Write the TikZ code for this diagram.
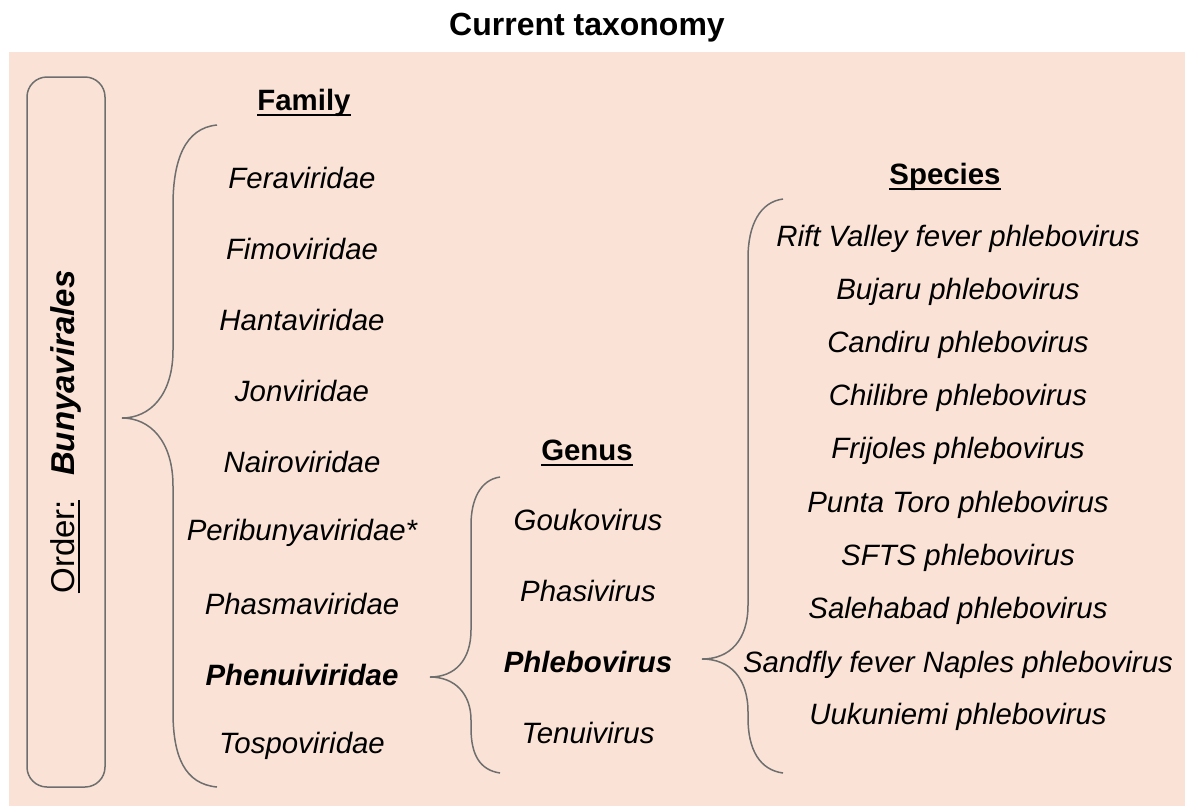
\documentclass[tikz,border=0pt]{standalone}
\usepackage{fontspec}
\setmainfont{Liberation Sans}
\usepackage{tikz}
\usetikzlibrary{positioning, calc}

\definecolor{peach}{RGB}{250,227,214}
\definecolor{linegray}{RGB}{110,110,110}
\newsavebox{\ulbox}
\newcommand{\ulabel}[1]{\sbox{\ulbox}{#1}\rlap{\usebox{\ulbox}}\rule[-5.5pt]{\wd\ulbox}{1.8pt}}
\newcommand{\txtsize}{\fontsize{29.4}{35}\selectfont}

\begin{document}
\begin{tikzpicture}[
        x=1pt, y=-1pt,
        % Define styles for the headings, names and brackets
        heading/.style={font=\txtsize\bfseries, inner sep=0pt},
        taxon/.style={font=\txtsize\itshape, inner sep=0pt},
        keytaxon/.style={font=\txtsize\bfseries\itshape, inner sep=0pt},
        bracket/.style={draw=linegray, line width=1.5pt},
        orderbox/.style={draw=linegray, line width=1.5pt, rounded corners=20pt, rotate=90, minimum width=710pt, minimum height=78pt, inner sep=0pt, font=\fontsize{33}{38}\selectfont}
    ]
    \useasboundingbox (0,0) rectangle (1185,809);

    % Background panel and title
    \fill[peach] (9,52) rectangle (1185,806);
    \node[font=\fontsize{32}{38}\selectfont\bfseries] (title) at (587,28) {Current taxonomy};

    % Order box on the left
    \node[orderbox] (order) at (66,432) {\ulabel{Order:}\hspace{24pt}\textbf{\textit{Bunyavirales}}};

    % Family column
    \node[heading] (family) at (304,103) {\ulabel{Family}};
    \node[taxon] (feraviridae) at (302,178) {Feraviridae};
    \node[taxon] (fimoviridae) at (302,249) {Fimoviridae};
    \node[taxon] (hantaviridae) at (302,320) {Hantaviridae};
    \node[taxon] (jonviridae) at (302,391) {Jonviridae};
    \node[taxon] (nairoviridae) at (302,462) {Nairoviridae};
    \node[taxon] (peribunyaviridae) at (302,533) {Peribunyaviridae*};
    \node[taxon] (phasmaviridae) at (302,604) {Phasmaviridae};
    \node[keytaxon] (phenuiviridae) at (302,675) {Phenuiviridae};
    \node[taxon] (tospoviridae) at (302,746) {Tospoviridae};

    % Genus column
    \node[heading] (genus) at (587,453) {\ulabel{Genus}};
    \node[taxon] (goukovirus) at (588,520) {Goukovirus};
    \node[taxon] (phasivirus) at (588,591) {Phasivirus};
    \node[keytaxon] (phlebovirus) at (588,662) {Phlebovirus};
    \node[taxon] (tenuivirus) at (588,733) {Tenuivirus};

    % Species column
    \node[heading] (species) at (945,177) {\ulabel{Species}};
    \node[taxon] (riftvalley) at (958,239) {Rift Valley fever phlebovirus};
    \node[taxon] (bujaru) at (958,292) {Bujaru phlebovirus};
    \node[taxon] (candiru) at (958,345) {Candiru phlebovirus};
    \node[taxon] (chilibre) at (958,398) {Chilibre phlebovirus};
    \node[taxon] (frijoles) at (958,451) {Frijoles phlebovirus};
    \node[taxon] (puntatoro) at (958,505) {Punta Toro phlebovirus};
    \node[taxon] (sfts) at (958,558) {SFTS phlebovirus};
    \node[taxon] (salehabad) at (958,611) {Salehabad phlebovirus};
    \node[taxon] (sandfly) at (958,665) {Sandfly fever Naples phlebovirus};
    \node[taxon] (uukuniemi) at (958,717) {Uukuniemi phlebovirus};

    % Draw the brackets
    \draw[bracket] (217,125) .. controls (185,128) and (173,160) .. (173,205) -- (173,350)
        .. controls (173,395) and (150,418) .. (122,418)
        .. controls (150,418) and (173,441) .. (173,486) -- (173,712)
        .. controls (173,757) and (185,784) .. (217,787);
    \draw[bracket] (500,477) .. controls (480,480) and (471,500) .. (471,525) -- (471,630)
        .. controls (471,660) and (455,677) .. (430,677)
        .. controls (455,677) and (471,694) .. (471,720) -- (471,728)
        .. controls (471,755) and (480,770) .. (500,773);
    \draw[bracket] (783,199) .. controls (760,202) and (748,225) .. (748,258) -- (748,605)
        .. controls (748,640) and (730,659) .. (702,659)
        .. controls (730,659) and (748,678) .. (748,712) -- (748,718)
        .. controls (748,750) and (760,770) .. (783,773);

\end{tikzpicture}
\end{document}
